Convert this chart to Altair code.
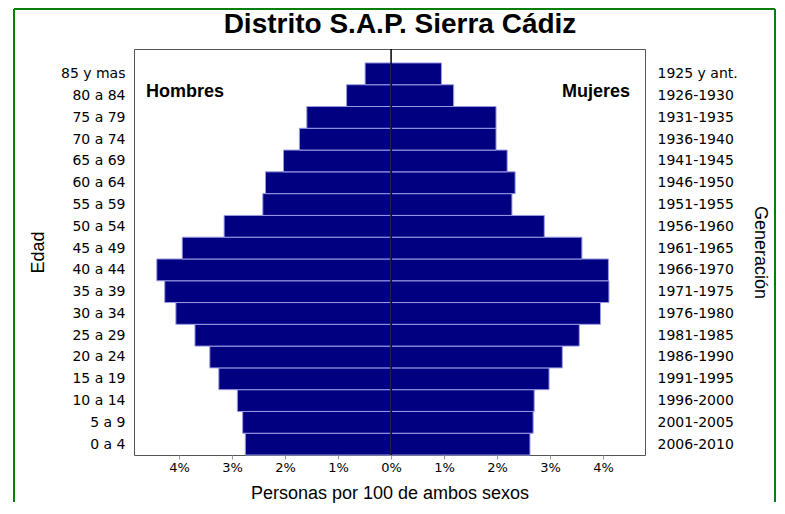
import json
import altair as alt
import pandas as pd

# ---- data ----
edades = ["0 a 4", "5 a 9", "10 a 14", "15 a 19", "20 a 24", "25 a 29", "30 a 34",
          "35 a 39", "40 a 44", "45 a 49", "50 a 54", "55 a 59", "60 a 64", "65 a 69",
          "70 a 74", "75 a 79", "80 a 84", "85 y mas"]
generaciones = ["2006-2010", "2001-2005", "1996-2000", "1991-1995", "1986-1990",
                "1981-1985", "1976-1980", "1971-1975", "1966-1970", "1961-1965",
                "1956-1960", "1951-1955", "1946-1950", "1941-1945", "1936-1940",
                "1931-1935", "1926-1930", "1925 y ant."]
hombres = [2.75, 2.80, 2.90, 3.25, 3.42, 3.70, 4.06, 4.27, 4.42, 3.94, 3.15, 2.42,
           2.37, 2.03, 1.73, 1.59, 0.84, 0.49]
mujeres = [2.62, 2.68, 2.70, 2.98, 3.23, 3.55, 3.95, 4.11, 4.10, 3.60, 2.89, 2.28,
           2.34, 2.19, 1.98, 1.98, 1.18, 0.95]
ticks_pct = [-4, -3, -2, -1, 0, 1, 2, 3, 4]

titulo = "Distrito S.A.P. Sierra Cádiz"
etiqueta_h = "Hombres"
etiqueta_m = "Mujeres"

# ---- tables ----
rows_h = [dict(grupo=e, lo=i, hi=i + 1, val=-v, zero=0) for i, (e, v) in enumerate(zip(edades, hombres))]
rows_m = [dict(grupo=e, lo=i, hi=i + 1, val=v, zero=0) for i, (e, v) in enumerate(zip(edades, mujeres))]
df_h = pd.DataFrame(rows_h)
df_m = pd.DataFrame(rows_m)
one = pd.DataFrame({"zero": [0]})

NAVY = "#000080"
xscale = alt.Scale(domain=[-4.85, 4.79], nice=False, zero=False)
yscale = alt.Scale(domain=[0, 18.64], nice=False, zero=False)
ypos = [i + 0.5 for i in range(len(edades))]

x_axis = alt.Axis(values=ticks_pct, labelExpr="abs(datum.value) + '%'",
                  title="Personas por 100 de ambos sexos", grid=False, domain=False,
                  ticks=True, tickSize=4, tickColor="#999999",
                  labelFont="DejaVu Sans", labelFontSize=13, labelPadding=2,
                  titleFont="Liberation Sans", titleFontSize=18, titleFontWeight="normal",
                  titlePadding=10)

left_axis = alt.Axis(orient="left", values=ypos,
                     labelExpr=json.dumps(edades) + "[floor(datum.value)]",
                     ticks=False, domain=False, grid=False, labelPadding=9,
                     labelFont="DejaVu Sans", labelFontSize=14,
                     title="Edad", titleFont="Liberation Sans", titleFontSize=18,
                     titleFontWeight="normal", titlePadding=13)

right_axis = alt.Axis(orient="right", values=ypos,
                      labelExpr=json.dumps(generaciones) + "[floor(datum.value)]",
                      ticks=False, domain=False, grid=False, labelPadding=12,
                      labelFont="DejaVu Sans", labelFontSize=14,
                      title="Generación", titleFont="Liberation Sans", titleFontSize=18,
                      titleFontWeight="normal", titlePadding=13)

# green frame around the whole figure (decoration)
GREEN = "#0b7d0b"
fr_left = alt.Chart(one).mark_rule(color=GREEN, strokeWidth=2).encode(
    x=alt.value(-120), y=alt.value(-40), y2=alt.value(453))
fr_top = alt.Chart(one).mark_rule(color=GREEN, strokeWidth=2).encode(
    x=alt.value(-120), x2=alt.value(641), y=alt.value(-40))
fr_right = alt.Chart(one).mark_rule(color=GREEN, strokeWidth=2).encode(
    x=alt.value(641), y=alt.value(-40), y2=alt.value(453))

bars_h = alt.Chart(df_h).mark_bar(color=NAVY, stroke="#9a9ae6", strokeWidth=1).encode(
    x=alt.X("val:Q", scale=xscale, axis=x_axis),
    x2="zero:Q",
    y=alt.Y("lo:Q", scale=yscale, axis=left_axis),
    y2="hi:Q",
)
bars_m = alt.Chart(df_m).mark_bar(color=NAVY, stroke="#9a9ae6", strokeWidth=1).encode(
    x=alt.X("val:Q", scale=xscale, axis=x_axis),
    x2="zero:Q",
    y=alt.Y("lo:Q", scale=yscale, axis=right_axis),
    y2="hi:Q",
)

center = alt.Chart(one).mark_rule(color="black", strokeWidth=1.5).encode(
    x=alt.X("zero:Q", scale=xscale, axis=x_axis))

txt_h = alt.Chart(one).mark_text(text=etiqueta_h, align="left", baseline="middle",
                                 font="Liberation Sans", fontSize=18, fontWeight="bold",
                                 color="black").encode(x=alt.value(12), y=alt.value(43))
txt_m = alt.Chart(one).mark_text(text=etiqueta_m, align="right", baseline="middle",
                                 font="Liberation Sans", fontSize=18, fontWeight="bold",
                                 color="black").encode(x=alt.value(496), y=alt.value(43))
txt_t = alt.Chart(one).mark_text(text=titulo, align="center", baseline="middle",
                                 font="Liberation Sans", fontSize=28, fontWeight="bold",
                                 color="black").encode(x=alt.value(266), y=alt.value(-24))

chart = alt.layer(fr_left, fr_top, fr_right, bars_h, bars_m, center, txt_h, txt_m, txt_t).resolve_axis(
    y="independent"
).properties(
    width=511, height=406,
    padding={"left": 5, "top": 0, "right": 0, "bottom": 0},
    background="white",
).configure_view(stroke="#555555", strokeWidth=1).configure_axis(
    labelColor="black", titleColor="black"
)

chart.save("out.html", embed_options={"renderer": "svg", "actions": False})
